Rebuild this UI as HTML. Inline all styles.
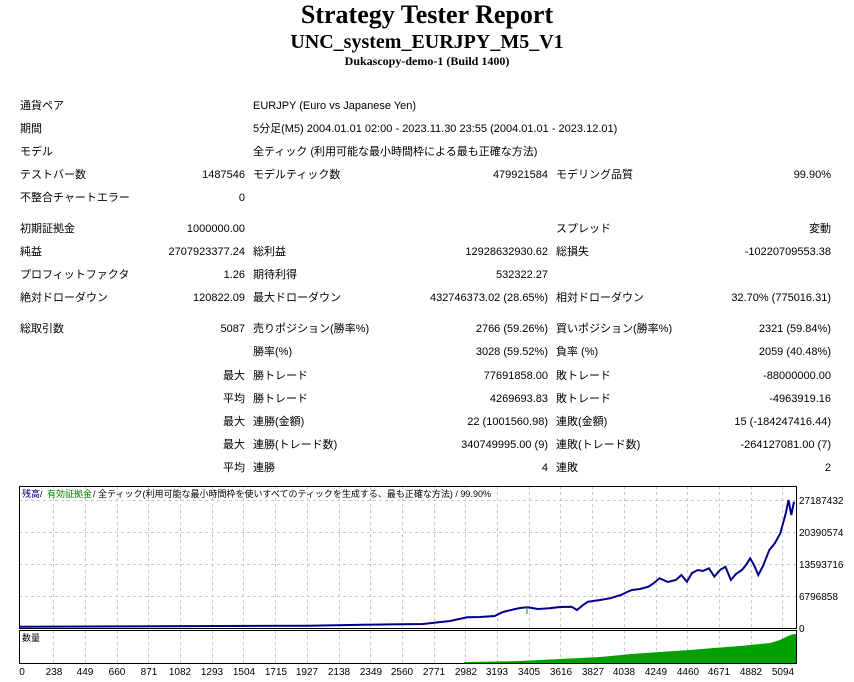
<!DOCTYPE html>
<html><head><meta charset="utf-8"><style>
body{margin:0;width:854px;height:682px;background:#fff;position:relative;overflow:hidden;font-family:"Liberation Sans","Noto Sans CJK JP",sans-serif;font-size:11px;color:#000}
.t{position:absolute;white-space:nowrap;line-height:13px}
.r{text-align:right}
.h{position:absolute;left:0;width:854px;text-align:center;font-family:"Liberation Serif","Noto Serif CJK SC",serif;font-weight:bold;white-space:nowrap}
</style></head><body>
<div class="h" style="top:0px;font-size:26px;line-height:30px">Strategy Tester Report</div>
<div class="h" style="top:30px;font-size:20px;line-height:24px">UNC_system_EURJPY_M5_V1</div>
<div class="h" style="top:54px;font-size:12px;line-height:14px">Dukascopy-demo-1 (Build 1400)</div>

<div class="t" style="left:20px;top:100px">通貨ペア</div>
<div class="t" style="left:253px;top:100px">EURJPY (Euro vs Japanese Yen)</div>
<div class="t" style="left:20px;top:123px">期間</div>
<div class="t" style="left:253px;top:123px">5分足(M5) 2004.01.01 02:00 - 2023.11.30 23:55 (2004.01.01 - 2023.12.01)</div>
<div class="t" style="left:20px;top:146px">モデル</div>
<div class="t" style="left:253px;top:146px">全ティック (利用可能な最小時間枠による最も正確な方法)</div>
<div class="t" style="left:20px;top:169px">テストバー数</div>
<div class="t r" style="right:609px;top:169px">1487546</div>
<div class="t" style="left:253px;top:169px">モデルティック数</div>
<div class="t r" style="right:306px;top:169px">479921584</div>
<div class="t" style="left:556px;top:169px">モデリング品質</div>
<div class="t r" style="right:23px;top:169px">99.90%</div>
<div class="t" style="left:20px;top:192px">不整合チャートエラー</div>
<div class="t r" style="right:609px;top:192px">0</div>

<div class="t" style="left:20px;top:223px">初期証拠金</div>
<div class="t r" style="right:609px;top:223px">1000000.00</div>
<div class="t" style="left:556px;top:223px">スプレッド</div>
<div class="t r" style="right:23px;top:223px">変動</div>
<div class="t" style="left:20px;top:246px">純益</div>
<div class="t r" style="right:609px;top:246px">2707923377.24</div>
<div class="t" style="left:253px;top:246px">総利益</div>
<div class="t r" style="right:306px;top:246px">12928632930.62</div>
<div class="t" style="left:556px;top:246px">総損失</div>
<div class="t r" style="right:23px;top:246px">-10220709553.38</div>
<div class="t" style="left:20px;top:269px">プロフィットファクタ</div>
<div class="t r" style="right:609px;top:269px">1.26</div>
<div class="t" style="left:253px;top:269px">期待利得</div>
<div class="t r" style="right:306px;top:269px">532322.27</div>
<div class="t" style="left:20px;top:292px">絶対ドローダウン</div>
<div class="t r" style="right:609px;top:292px">120822.09</div>
<div class="t" style="left:253px;top:292px">最大ドローダウン</div>
<div class="t r" style="right:306px;top:292px">432746373.02 (28.65%)</div>
<div class="t" style="left:556px;top:292px">相対ドローダウン</div>
<div class="t r" style="right:23px;top:292px">32.70% (775016.31)</div>

<div class="t" style="left:20px;top:323px">総取引数</div>
<div class="t r" style="right:609px;top:323px">5087</div>
<div class="t" style="left:253px;top:323px">売りポジション(勝率%)</div>
<div class="t r" style="right:306px;top:323px">2766 (59.26%)</div>
<div class="t" style="left:556px;top:323px">買いポジション(勝率%)</div>
<div class="t r" style="right:23px;top:323px">2321 (59.84%)</div>
<div class="t" style="left:253px;top:346px">勝率(%)</div>
<div class="t r" style="right:306px;top:346px">3028 (59.52%)</div>
<div class="t" style="left:556px;top:346px">負率 (%)</div>
<div class="t r" style="right:23px;top:346px">2059 (40.48%)</div>
<div class="t r" style="right:609px;top:370px">最大</div>
<div class="t" style="left:253px;top:370px">勝トレード</div>
<div class="t r" style="right:306px;top:370px">77691858.00</div>
<div class="t" style="left:556px;top:370px">敗トレード</div>
<div class="t r" style="right:23px;top:370px">-88000000.00</div>
<div class="t r" style="right:609px;top:393px">平均</div>
<div class="t" style="left:253px;top:393px">勝トレード</div>
<div class="t r" style="right:306px;top:393px">4269693.83</div>
<div class="t" style="left:556px;top:393px">敗トレード</div>
<div class="t r" style="right:23px;top:393px">-4963919.16</div>
<div class="t r" style="right:609px;top:416px">最大</div>
<div class="t" style="left:253px;top:416px">連勝(金額)</div>
<div class="t r" style="right:306px;top:416px">22 (1001560.98)</div>
<div class="t" style="left:556px;top:416px">連敗(金額)</div>
<div class="t r" style="right:23px;top:416px">15 (-184247416.44)</div>
<div class="t r" style="right:609px;top:439px">最大</div>
<div class="t" style="left:253px;top:439px">連勝(トレード数)</div>
<div class="t r" style="right:306px;top:439px">340749995.00 (9)</div>
<div class="t" style="left:556px;top:439px">連敗(トレード数)</div>
<div class="t r" style="right:23px;top:439px">-264127081.00 (7)</div>
<div class="t r" style="right:609px;top:462px">平均</div>
<div class="t" style="left:253px;top:462px">連勝</div>
<div class="t r" style="right:306px;top:462px">4</div>
<div class="t" style="left:556px;top:462px">連敗</div>
<div class="t r" style="right:23px;top:462px">2</div>

<svg style="position:absolute;left:0;top:0" width="854" height="682" font-family="Liberation Sans, Noto Sans CJK JP, sans-serif" font-size="9">
<g stroke="#c8c8c8" stroke-dasharray="3,3" stroke-width="1">
<line x1="19" x2="796" y1="500.5" y2="500.5"/><line x1="19" x2="796" y1="532.5" y2="532.5"/><line x1="19" x2="796" y1="564.5" y2="564.5"/><line x1="19" x2="796" y1="596.5" y2="596.5"/>
<line x1="53.5" x2="53.5" y1="486" y2="664"/><line x1="85.5" x2="85.5" y1="486" y2="664"/><line x1="117.5" x2="117.5" y1="486" y2="664"/><line x1="148.5" x2="148.5" y1="486" y2="664"/><line x1="180.5" x2="180.5" y1="486" y2="664"/><line x1="212.5" x2="212.5" y1="486" y2="664"/><line x1="243.5" x2="243.5" y1="486" y2="664"/><line x1="275.5" x2="275.5" y1="486" y2="664"/><line x1="307.5" x2="307.5" y1="486" y2="664"/><line x1="339.5" x2="339.5" y1="486" y2="664"/><line x1="370.5" x2="370.5" y1="486" y2="664"/><line x1="402.5" x2="402.5" y1="486" y2="664"/><line x1="434.5" x2="434.5" y1="486" y2="664"/><line x1="465.5" x2="465.5" y1="486" y2="664"/><line x1="497.5" x2="497.5" y1="486" y2="664"/><line x1="529.5" x2="529.5" y1="486" y2="664"/><line x1="560.5" x2="560.5" y1="486" y2="664"/><line x1="592.5" x2="592.5" y1="486" y2="664"/><line x1="624.5" x2="624.5" y1="486" y2="664"/><line x1="656.5" x2="656.5" y1="486" y2="664"/><line x1="687.5" x2="687.5" y1="486" y2="664"/><line x1="719.5" x2="719.5" y1="486" y2="664"/><line x1="751.5" x2="751.5" y1="486" y2="664"/><line x1="782.5" x2="782.5" y1="486" y2="664"/>
</g>
<polygon fill="#00a000" points="464,662 520,661 560,659 600,657 632,654 660,652 690,650 714,648 740,646 760,644 770,643 780,640 788,636 794,634 796,634 796,663 464,663"/>
<polyline fill="none" stroke="#00008b" stroke-width="2" points="20,626.7 307.7,625.7 362.7,624.7 423.1,624 450,621 467.1,617.3 480,617 494.6,616 503,612 511,610 520,608 527.5,607.3 538,609 549.5,608.3 560,607 571.5,606.7 577,610 583,605 588,601.7 600,600 610,598.3 621,595 627,592 632,590 640,589 648.4,586.7 654,583 659.4,578.3 668,582 675.9,580 681.4,575 686.9,581.7 692,573 697.9,570 703,571 708.9,568.3 714.4,576.7 720,570 725.4,566.7 730.9,580 736,574 741.9,570 746,565 750.1,558.3 754,565 758.3,575 763,566 769.3,550 774.8,543.3 780.3,533.3 785.8,513.3 788.5,500 791.3,515 794,501.7"/>
<line x1="527" x2="527" y1="606" y2="614" stroke="#00a000"/>
<rect x="19.5" y="486.5" width="777" height="142" fill="none" stroke="#000"/>
<rect x="19.5" y="630.5" width="777" height="33" fill="none" stroke="#000"/>
<text x="22" y="497" fill="#00008b">残高</text><text x="40" y="497">/</text><text x="47" y="497" fill="#008000">有効証拠金</text><text x="93" y="497">/ 全ティック(利用可能な最小時間枠を使いすべてのティックを生成する、最も正確な方法) / 99.90%</text>
<text x="22" y="641">数量</text>
<g font-size="10"><text x="799" y="504">27187432</text><text x="799" y="536">20390574</text><text x="799" y="568">13593716</text><text x="799" y="600">6796858</text><text x="799" y="632">0</text></g>
<g font-size="10" text-anchor="middle">
<text x="22" y="675">0</text><text x="54" y="675">238</text><text x="85" y="675">449</text><text x="117" y="675">660</text><text x="149" y="675">871</text><text x="180" y="675">1082</text><text x="212" y="675">1293</text><text x="244" y="675">1504</text><text x="276" y="675">1715</text><text x="307" y="675">1927</text><text x="339" y="675">2138</text><text x="371" y="675">2349</text><text x="402" y="675">2560</text><text x="434" y="675">2771</text><text x="466" y="675">2982</text><text x="497" y="675">3193</text><text x="529" y="675">3405</text><text x="561" y="675">3616</text><text x="593" y="675">3827</text><text x="624" y="675">4038</text><text x="656" y="675">4249</text><text x="688" y="675">4460</text><text x="719" y="675">4671</text><text x="751" y="675">4882</text><text x="783" y="675">5094</text>
</g>
</svg>
</body></html>
